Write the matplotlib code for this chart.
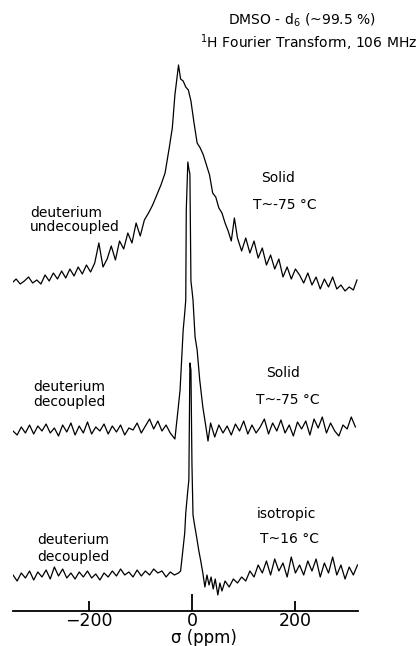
import matplotlib
matplotlib.use("Agg")
import matplotlib.pyplot as plt

plt.rcParams['font.family'] = ['DejaVu Sans']

# --- spectrum 1 : solid, deuterium undecoupled (shift in ppm, height in arbitrary units)
ppm1 = [-348, -340, -332, -324, -316, -308, -300, -292, -284, -276, -268, -260, -252,
        -244, -236, -228, -220, -212, -204, -196, -188, -180, -172, -164, -156, -148,
        -140, -132, -124, -116, -108, -100, -92, -84, -76, -68, -60, -52, -44,
        -38, -33, -29, -26, -22, -17, -12, -7, -2,
        4, 10, 16, 22, 28, 34, 40, 46, 52, 58, 64, 70, 76, 82, 88,
        96, 104, 112, 120, 128, 136, 144, 152, 160, 168, 176, 184, 192, 200, 208,
        216, 224, 232, 240, 248, 256, 264, 272, 280, 288, 296, 304, 312, 319]
int1 = [10, 14, 9, 12, 16, 10, 13, 9, 18, 12, 20, 14, 22,
        15, 24, 17, 26, 19, 28, 21, 30, 50, 26, 34, 47, 33,
        52, 44, 60, 50, 70, 57, 73, 80, 88, 98, 108, 120, 145,
        165, 198, 215, 228, 214, 212, 206, 203, 192,
        170, 150, 145, 138, 128, 118, 100, 96, 85, 80, 70, 62, 52, 75, 55,
        42, 55, 40, 52, 35, 45, 28, 38, 24, 34, 16, 26, 14, 24, 18,
        10, 20, 8, 16, 4, 14, 6, 16, 4, 8, 2, 6, 3, 13]

# --- spectrum 2 : solid, deuterium decoupled
ppm2 = [-346, -338, -330, -322, -314, -306, -298, -290, -282, -274, -266, -258, -250,
        -242, -234, -226, -218, -210, -202, -194, -186, -178, -170, -162, -154, -146,
        -138, -130, -122, -114, -106, -98, -90, -82, -74, -66, -58, -50, -42,
        -33, -27, -23, -19, -17, -14, -12, -11, -8, -6, -4, -2, 0, 2, 6, 10, 15, 21, 27, 31,
        36, 44, 52, 60, 68, 76, 84, 92, 100, 108, 116, 124, 132, 140, 148, 156, 164,
        172, 180, 188, 196, 204, 212, 220, 228, 236, 244, 252, 260, 268, 276, 284,
        292, 300, 308, 316]
int2 = [0, -4, 4, -2, 6, -3, 5, 0, 7, -2, 3, -5, 6,
        -1, 8, -4, 5, -2, 9, -3, 4, 0, 7, -3, 5, -1,
        6, -4, 3, 1, 8, -2, 5, 12, 2, 10, 0, 6, -2,
        -8, 21, 41, 81, 101, 118, 131, 221, 269, 262, 257, 150, 141, 131, 94, 81, 51, 24, 4, -10,
        8, -6, 6, -2, 5, -4, 7, 0, 10, -3, 6, -2, 4, 12, -3, 8, 0,
        11, -2, 6, -5, 9, 2, 10, -4, 12, 3, 14, -2, 8, 0, -5,
        6, 2, 14, 4]

# --- spectrum 3 : isotropic, deuterium decoupled
ppm3 = [-346, -338, -330, -322, -314, -306, -298, -290, -282, -274, -266, -258, -250,
        -242, -234, -226, -218, -210, -202, -194, -186, -178, -170, -162, -154, -146,
        -138, -130, -122, -114, -106, -98, -90, -82, -74, -66, -58, -50, -42, -34, -26,
        -22, -19, -14, -12, -8, -6, -4, -2, 0, 2, 5, 9, 13, 17, 21, 25, 29, 33, 37,
        41, 45, 50, 54, 58,
        64, 72, 80, 88, 96, 104, 112, 120, 128, 136, 144, 152, 160, 168, 176, 184,
        192, 200, 208, 216, 224, 232, 240, 248, 256, 264, 272, 280, 288, 296, 304,
        312, 320]
int3 = [0, -6, 2, -3, 4, -5, 3, -2, 5, -4, 8, -1, 6,
        -3, 2, -4, 3, -2, 4, -3, 1, -5, 2, -2, 4, -1,
        6, 0, 3, -2, 5, -1, 4, 0, 6, 2, 4, -2, 3, 0, 2,
        4, 18, 42, 62, 85, 95, 212, 205, 110, 60, 50, 38, 25, 14, 2, -12, 0, -10, -2,
        -14, -4, -20, -8, -16,
        -6, -12, -4, -8, -2, -6, 4, -2, 10, 2, 14, 0, 16, 4, 12, -2,
        18, 2, 10, 0, 14, 4, 16, -2, 12, 2, 18, 0, 10, -4, 8,
        0, 10]

spectra = [(ppm1, int1), (ppm2, int2), (ppm3, int3)]
offsets = [318, 180, 36]

fig = plt.figure(figsize=(4.19, 6.46), dpi=100)
ax = fig.add_axes([13/419, 35/646, 345/419, 611/646])

for (x, y), off in zip(spectra, offsets):
    ax.plot(x, [v + off for v in y], color='black', lw=0.9)

ax.set_xlim(-346, 321)
ax.set_ylim(0, 611)
for s in ['left', 'right', 'top']:
    ax.spines[s].set_visible(False)
ax.spines['bottom'].set_linewidth(1.3)
ax.set_yticks([])
ax.set_xticks([-200, 0, 200])
ax.tick_params(axis='x', direction='in', length=7, width=1.3, pad=1, labelsize=12.5)
ax.xaxis.get_major_ticks()[1].tick1line.set_markersize(12)
ax.set_xlabel('σ (ppm)', fontsize=12)
ax.xaxis.set_label_coords(0.554, -0.03)

fs = 10
ax.text(212, 591, 'DMSO - d$_6$ (~99.5 %)', ha='center', va='center', fontsize=10)
ax.text(226, 568, '$^1$H Fourier Transform, 106 MHz', ha='center', va='center', fontsize=10)

ax.text(166, 433, 'Solid', ha='center', va='center', fontsize=fs)
ax.text(180, 406, 'T~-75 °C', ha='center', va='center', fontsize=fs)
ax.text(-313, 398, 'deuterium', ha='left', va='center', fontsize=fs)
ax.text(-313, 384, 'undecoupled', ha='left', va='center', fontsize=fs)

ax.text(176, 238, 'Solid', ha='center', va='center', fontsize=fs)
ax.text(185, 211, 'T~-75 °C', ha='center', va='center', fontsize=fs)
ax.text(-307, 224, 'deuterium', ha='left', va='center', fontsize=fs)
ax.text(-307, 209, 'decoupled', ha='left', va='center', fontsize=fs)

ax.text(182, 97, 'isotropic', ha='center', va='center', fontsize=fs)
ax.text(189, 72, 'T~16 °C', ha='center', va='center', fontsize=fs)
ax.text(-300, 71, 'deuterium', ha='left', va='center', fontsize=fs)
ax.text(-300, 54, 'decoupled', ha='left', va='center', fontsize=fs)

fig.savefig('out.png', dpi=100)
